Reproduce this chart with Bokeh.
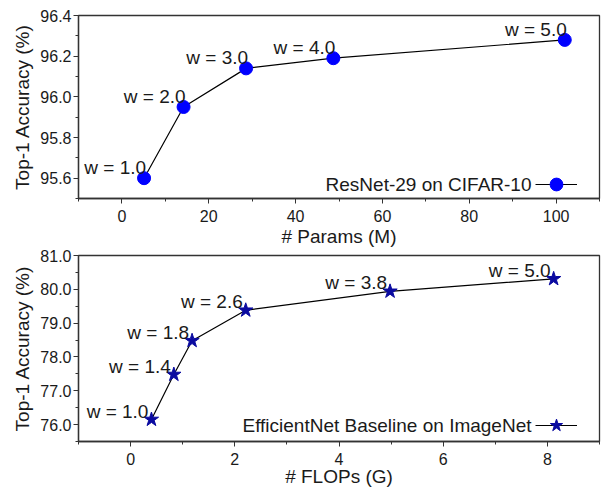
from bokeh.plotting import figure
from bokeh.models import (ColumnDataSource, LabelSet, Label, Legend, LegendItem,
                          FixedTicker, PrintfTickFormatter, Range1d)
from bokeh.core.properties import value
from bokeh.layouts import column
from bokeh.embed import file_html
from bokeh.resources import INLINE

# ---- data: ResNet-29 on CIFAR-10 ----
params_m = [5.1, 14.2, 28.6, 48.7, 102.0]
acc_cifar = [95.60, 95.95, 96.14, 96.19, 96.28]
w_cifar = ["w = 1.0", "w = 2.0", "w = 3.0", "w = 4.0", "w = 5.0"]

# ---- data: EfficientNet baseline on ImageNet ----
flops_g = [0.40, 0.83, 1.18, 2.21, 4.98, 8.12]
acc_imnet = [76.15, 77.48, 78.48, 79.38, 79.94, 80.31]
w_imnet = ["w = 1.0", "w = 1.4", "w = 1.8", "w = 2.6", "w = 3.8", "w = 5.0"]

top_xticks = [0, 20, 40, 60, 80, 100]
top_xminor = [-10, 10, 30, 50, 70, 90, 110]
top_yticks = [95.6, 95.8, 96.0, 96.2, 96.4]
top_yminor = [95.5, 95.7, 95.9, 96.1, 96.3]
bot_xticks = [0, 2, 4, 6, 8]
bot_xminor = [-1, 1, 3, 5, 7, 9]
bot_yticks = [76, 77, 78, 79, 80, 81]
bot_yminor = [75.5, 76.5, 77.5, 78.5, 79.5, 80.5]

FONT = "Liberation Sans"
TXT = "#1a1a1a"
AX = "#333333"
W = 602


def style(p, xt, xm, yt, ym, xlabel, tick_standoff, label_standoff):
    p.xaxis.ticker = FixedTicker(ticks=xt, minor_ticks=xm)
    p.yaxis.ticker = FixedTicker(ticks=yt, minor_ticks=ym)
    p.yaxis.formatter = PrintfTickFormatter(format="%.1f")
    p.xaxis.formatter = PrintfTickFormatter(format="%d")
    for ax in (p.xaxis[0], p.yaxis[0]):
        ax.major_label_text_font = FONT
        ax.major_label_text_font_size = "16px"
        ax.major_label_text_color = TXT
        ax.axis_label_text_font = FONT
        ax.axis_label_text_font_size = "19px"
        ax.axis_label_text_font_style = "normal"
        ax.axis_label_text_color = TXT
        ax.axis_line_color = AX
        ax.axis_line_width = 1.3
        ax.major_tick_line_color = AX
        ax.minor_tick_line_color = AX
        ax.major_tick_in = 0
        ax.major_tick_out = 5
        ax.minor_tick_in = 0
        ax.minor_tick_out = 3
    p.xaxis.major_label_standoff = tick_standoff
    p.xaxis.axis_label_standoff = label_standoff
    p.yaxis.major_label_standoff = 2
    p.yaxis.axis_label_standoff = 4
    p.xaxis.axis_label = xlabel
    p.yaxis.axis_label = "Top-1 Accuracy (%)"
    p.xgrid.visible = False
    p.ygrid.visible = False
    p.outline_line_color = AX
    p.outline_line_width = 1.3
    p.outline_line_alpha = 1.0


def legend_for(p, renderers, text, y_center):
    leg = Legend(items=[LegendItem(label=" ", renderers=renderers)],
                 location=(457, y_center - 16), glyph_width=42, glyph_height=32,
                 padding=0, margin=0, label_standoff=0, label_width=0,
                 label_height=0, label_text_font_size="1px", border_line_alpha=0,
                 background_fill_alpha=0, spacing=0)
    p.add_layout(leg)
    p.add_layout(Label(x=453, y=y_center, x_units="screen", y_units="screen",
                       text=text, text_align="right", text_baseline="middle",
                       text_font=FONT, text_font_size="19px",
                       text_color=TXT))


# ---------------- top figure ----------------
p1 = figure(width=W, height=249, output_backend="svg", toolbar_location=None,
            x_range=Range1d(-10, 110), y_range=Range1d(95.5, 96.4),
            min_border_left=78, min_border_right=3, min_border_top=15, min_border_bottom=48)
style(p1, top_xticks, top_xminor, top_yticks, top_yminor, "# Params (M)", 6, 1)
src1 = ColumnDataSource(dict(x=params_m, y=acc_cifar, t=w_cifar))
l1 = p1.line("x", "y", source=src1, line_color="black", line_width=1.2)
s1 = p1.scatter("x", "y", source=src1, marker="circle", size=13,
                fill_color="#0000ff", line_color="#0000ff")
p1.add_layout(LabelSet(x="x", y="y", text="t", source=src1, text_align="right",
                       text_baseline="alphabetic", x_offset=2, y_offset=4,
                       text_font=value(FONT), text_font_size="19px", text_color=TXT))
legend_for(p1, [l1, s1], "ResNet-29 on CIFAR-10", 14)

# ---------------- bottom figure ----------------
p2 = figure(width=W, height=240, output_backend="svg", toolbar_location=None,
            x_range=Range1d(-1, 9), y_range=Range1d(75.5, 81.0),
            min_border_left=78, min_border_right=3, min_border_top=6, min_border_bottom=47)
style(p2, bot_xticks, bot_xminor, bot_yticks, bot_yminor, "# FLOPs (G)", 6, -2)
src2 = ColumnDataSource(dict(x=flops_g, y=acc_imnet, t=w_imnet))
l2 = p2.line("x", "y", source=src2, line_color="black", line_width=1.2)
s2 = p2.scatter("x", "y", source=src2, marker="star", size=15,
                fill_color="#0a0aa0", line_color="#0a0aa0")
p2.add_layout(LabelSet(x="x", y="y", text="t", source=src2, text_align="right",
                       text_baseline="alphabetic", x_offset=-3, y_offset=2,
                       text_font=value(FONT), text_font_size="19px", text_color=TXT))
legend_for(p2, [l2, s2], "EfficientNet Baseline on ImageNet", 16)

layout = column(p1, p2, spacing=0)
open("out.html", "w").write(file_html(layout, INLINE))
